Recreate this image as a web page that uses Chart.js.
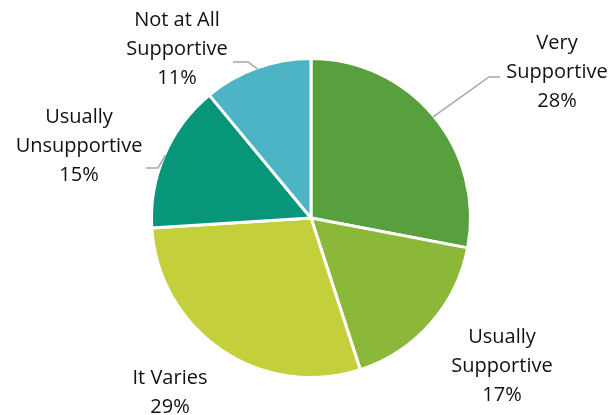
<!DOCTYPE html>
<html>
<head>
<meta charset="utf-8">
<script src="https://cdn.jsdelivr.net/npm/chart.js@4/dist/chart.umd.min.js"></script>
<style>
  html, body { margin: 0; padding: 0; background: #fff; }
  #wrap { width: 612px; height: 415px; position: relative; }
</style>
</head>
<body>
<div id="wrap"><canvas id="c" width="612" height="415"></canvas></div>
<script>
// Support levels, clockwise from 12 o'clock
const categories = [
  ["Very", "Supportive"],
  ["Usually", "Supportive"],
  ["It Varies"],
  ["Usually", "Unsupportive"],
  ["Not at All", "Supportive"]
];
const shares = [28, 17, 29, 15, 11];
const sliceColors = ["#589F3E", "#8CB83A", "#C3D03C", "#07967A", "#4CB4C5"];

// Where each label block is centred (x, first line y) and its leader line bend
const labelSpots = [
  { x: 557, y: 43, bend: [[489, 77], [500, 77]] },
  { x: 502, y: 337, bend: null },
  { x: 170, y: 378, bend: null },
  { x: 79, y: 117, bend: [[158, 168], [146, 168]] },
  { x: 177, y: 20, bend: [[248, 62], [233, 62]] }
];

const FONT = '20px "Open Sans", Lato, sans-serif';
const LINE_H = 29;

const outsideLabels = {
  id: 'outsideLabels',
  afterDatasetsDraw(chart) {
    const ctx = chart.ctx;
    const meta = chart.getDatasetMeta(0);
    ctx.save();
    meta.data.forEach((arc, i) => {
      const p = arc.getProps(['x', 'y', 'startAngle', 'endAngle', 'outerRadius'], true);
      const spot = labelSpots[i];
      if (spot.bend) {
        const mid = (p.startAngle + p.endAngle) / 2;
        const sx = p.x + Math.cos(mid) * (p.outerRadius - 1);
        const sy = p.y + Math.sin(mid) * (p.outerRadius - 1);
        ctx.beginPath();
        ctx.strokeStyle = '#A6A6A6';
        ctx.lineWidth = 1.5;
        ctx.moveTo(sx, sy);
        spot.bend.forEach(pt => ctx.lineTo(pt[0], pt[1]));
        ctx.stroke();
      }
      const lines = categories[i].concat([shares[i] + '%']);
      ctx.fillStyle = '#111111';
      ctx.font = FONT;
      ctx.textAlign = 'center';
      ctx.textBaseline = 'middle';
      lines.forEach((t, k) => ctx.fillText(t, spot.x, spot.y + k * LINE_H));
    });
    ctx.restore();
  }
};

new Chart(document.getElementById('c'), {
  type: 'pie',
  data: {
    labels: categories.map(c => c.join(' ')),
    datasets: [{
      data: shares,
      backgroundColor: sliceColors,
      borderColor: '#ffffff',
      borderWidth: 3,
      hoverOffset: 0
    }]
  },
  options: {
    responsive: false,
    animation: false,
    events: [],
    layout: { padding: { left: 150, right: 140, top: 57, bottom: 36 } },
    plugins: {
      legend: { display: false },
      tooltip: { enabled: false }
    }
  },
  plugins: [outsideLabels]
});
</script>
</body>
</html>
